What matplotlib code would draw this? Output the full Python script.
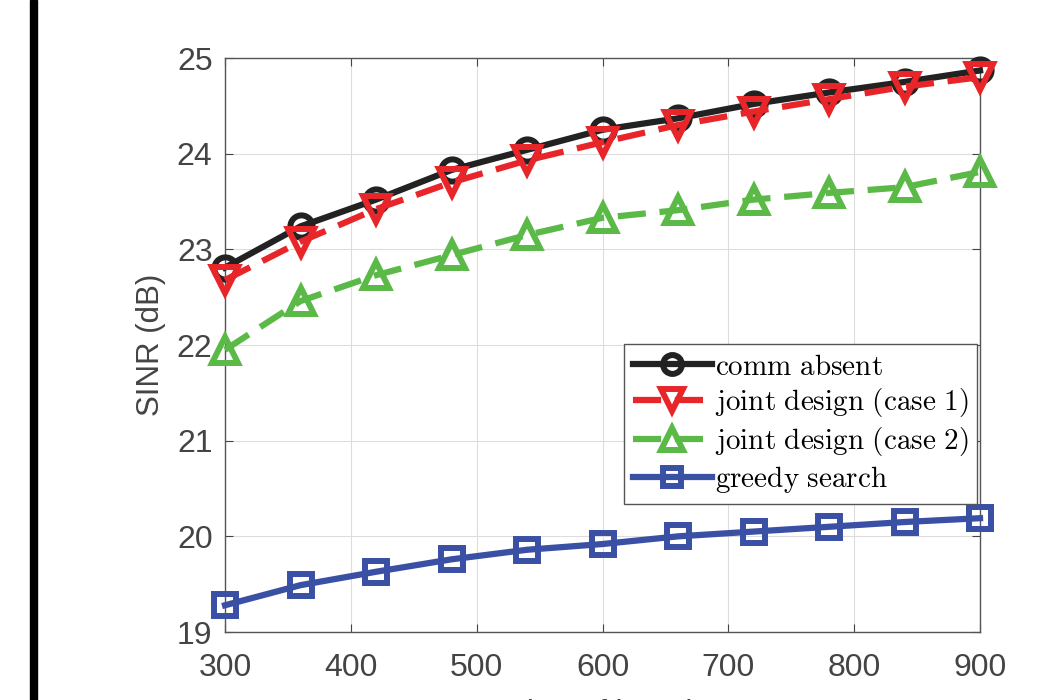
import matplotlib
matplotlib.use("Agg")
import matplotlib.pyplot as plt
from matplotlib.patches import Rectangle

plt.rcParams["font.family"] = ["Liberation Sans", "DejaVu Sans"]
plt.rcParams["mathtext.fontset"] = "cm"

x = [300, 360, 420, 480, 540, 600, 660, 720, 780, 840, 900]
comm_absent = [22.81, 23.24, 23.52, 23.83, 24.04, 24.25, 24.37, 24.52, 24.64, 24.75, 24.87]
joint_case1 = [22.68, 23.08, 23.42, 23.70, 23.93, 24.12, 24.30, 24.44, 24.57, 24.70, 24.80]
joint_case2 = [21.95, 22.46, 22.73, 22.94, 23.15, 23.33, 23.41, 23.52, 23.59, 23.65, 23.81]
greedy = [19.28, 19.49, 19.63, 19.76, 19.86, 19.92, 20.00, 20.05, 20.10, 20.15, 20.19]

labels = ["comm absent", "joint design (case 1)", "joint design (case 2)", "greedy search"]
xticks = [300, 400, 500, 600, 700, 800, 900]
yticks = [19, 20, 21, 22, 23, 24, 25]

fig = plt.figure(figsize=(10.62, 7.0), dpi=100)
ax = fig.add_axes([0.2119, 0.0971, 0.7109, 0.82])

# black bar at left edge of the page scan
fig.patches.append(Rectangle((0.028, 0), 0.007, 1, transform=fig.transFigure,
                             color="black", zorder=5))

series = [
    (comm_absent, "#222222", "-", "o", 16),
    (joint_case1, "#e8262a", "--", "v", 19),
    (joint_case2, "#5ab947", "--", "^", 19),
    (greedy, "#3a50a5", "-", "s", 16),
]
for (y, c, ls, m, ms), lab in zip(series, labels):
    line, = ax.plot(x, y, color=c, ls=ls, lw=4.5, marker=m, ms=ms, mew=4.3,
                    mfc="none", mec=c,
                    label=r"$\mathrm{" + lab.replace(" ", r"\ ") + "}$",
                    clip_on=False, zorder=3)
    if ls == "--":
        line.set_dashes((4.5, 2.2))

ax.set_xlim(300, 900)
ax.set_ylim(19, 25)
ax.set_xticks(xticks)
ax.set_yticks(yticks)
ax.grid(True, color="#dddddd", lw=0.8)
ax.set_axisbelow(True)
ax.tick_params(direction="in", top=True, right=True, labelsize=23,
               colors="#444444", length=6)
ax.tick_params(axis="x", pad=15)
ax.tick_params(axis="y", pad=9)
for s in ax.spines.values():
    s.set_color("#555555")
    s.set_linewidth(1.0)

ax.set_ylabel("SINR (dB)", fontsize=22.5, color="#444444", labelpad=8)
# x label is cut off by the bottom edge in the source image
fig.text(0.567, 0.002, "Number of iterations", fontsize=22.5, color="#444444",
         ha="center", va="top")

leg = ax.legend(loc="upper right", bbox_to_anchor=(0.996, 0.502), fontsize=21,
                handlelength=2.7, handletextpad=0.1, borderpad=0.3,
                borderaxespad=0, labelspacing=0.2, fancybox=False, framealpha=1,
                edgecolor="#555555", markerscale=0.85)
leg.get_frame().set_linewidth(1.0)

fig.savefig("out.png", dpi=100)
